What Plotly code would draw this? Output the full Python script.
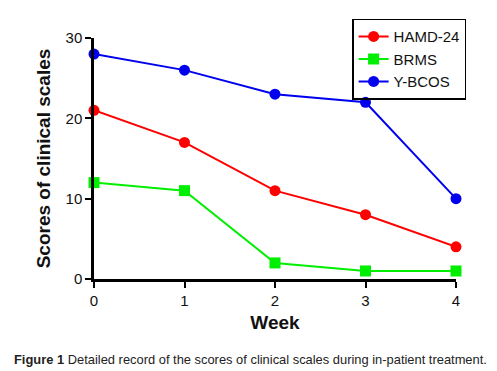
import plotly.graph_objects as go

weeks = [0, 1, 2, 3, 4]
hamd = [21, 17, 11, 8, 4]
brms = [12, 11, 2, 1, 1]
ybcos = [28, 26, 23, 22, 10]
y_ticks = [0, 10, 20, 30]

fig = go.Figure()
series = [("HAMD-24", hamd, "#ff0000", "circle"),
          ("BRMS", brms, "#00ee00", "square"),
          ("Y-BCOS", ybcos, "#0000ee", "circle")]
for name, vals, col, sym in series:
    fig.add_trace(go.Scatter(x=weeks, y=vals, name=name, mode="lines+markers",
                             line=dict(color=col, width=2),
                             marker=dict(color=col, symbol=sym, size=11),
                             cliponaxis=False))

fig.update_layout(
    width=489, height=363,
    margin=dict(l=86, r=41, t=30, b=92, autoexpand=False),
    paper_bgcolor="white", plot_bgcolor="white",
    font=dict(family="Liberation Sans, Arial", color="#111111"),
    showlegend=True,
    legend=dict(x=0.713, y=1.08, xanchor="left", yanchor="top",
                bordercolor="black", borderwidth=1.5,
                font=dict(size=15, color="#111111"),
                bgcolor="rgba(255,255,255,0)", tracegroupgap=0, itemwidth=30),
    xaxis=dict(range=[0, 4], tickvals=weeks, showgrid=False, zeroline=False,
               showline=True, linecolor="black", linewidth=2.5,
               ticks="outside", ticklen=6, tickwidth=2, tickcolor="black",
               tickfont=dict(size=15),
               title=dict(text="<b>Week</b>", font=dict(size=19), standoff=8)),
    yaxis=dict(range=[0, 30], tickvals=y_ticks, showgrid=False, zeroline=False,
               showline=True, linecolor="black", linewidth=2.5,
               ticks="outside", ticklen=6, tickwidth=2, tickcolor="black",
               tickfont=dict(size=15),
               title=dict(text="<b>Scores of clinical scales</b>", font=dict(size=19), standoff=10)),
)

fig.add_annotation(
    text="<b>Figure 1</b> Detailed record of the scores of clinical scales during in-patient treatment.",
    xref="paper", yref="paper", x=-0.2265, y=-0.332, xanchor="left", yanchor="middle",
    showarrow=False, font=dict(size=12.9, color="#222222", family="Liberation Sans, Arial"))

fig.write_html("out.html")
